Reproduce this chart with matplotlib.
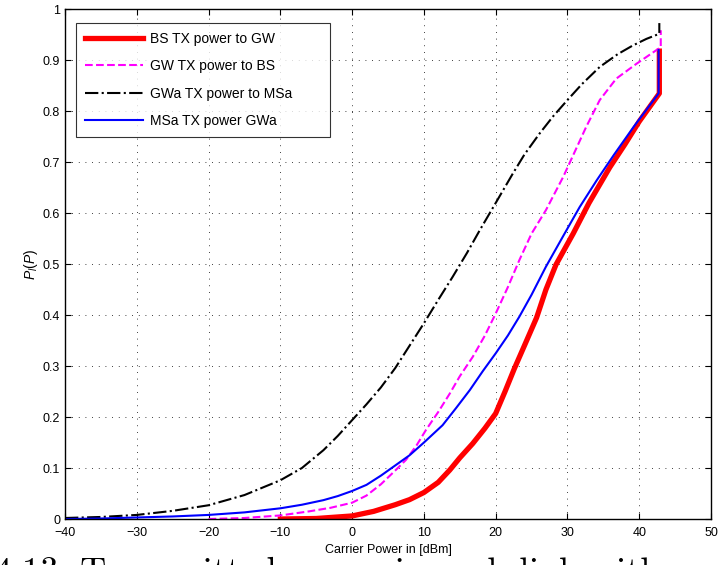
import matplotlib.pyplot as plt

# CDF of transmitted carrier power per link (x in dBm)
bs_to_gw_x = [-10, -5, 0, 3, 6, 8, 10, 12, 13.6, 15, 16.8, 18.5, 20, 21.3, 22.6, 24, 25.7, 27,
              28.4, 30.8, 33, 35.9, 38, 40, 42.8, 42.8]
bs_to_gw_y = [0.0, 0.001, 0.006, 0.015, 0.028, 0.038, 0.052, 0.072, 0.096, 0.12, 0.148, 0.178,
              0.207, 0.25, 0.295, 0.34, 0.395, 0.45, 0.499, 0.56, 0.62, 0.69, 0.735, 0.78, 0.835, 0.918]

gw_to_bs_x = [-20, -15, -10, -6, -3, 0, 2, 4, 6, 7.5, 9, 10.3, 12, 13.6, 15, 16.8, 18.5, 20, 21.7,
              23.3, 25, 27, 29.4, 31, 32.6, 34.5, 36.8, 39.6, 42.4, 43, 43]
gw_to_bs_y = [0.0, 0.002, 0.007, 0.015, 0.022, 0.032, 0.046, 0.068, 0.095, 0.116, 0.145, 0.175,
              0.21, 0.246, 0.28, 0.318, 0.36, 0.403, 0.455, 0.508, 0.56, 0.606, 0.671, 0.72, 0.769,
              0.822, 0.864, 0.893, 0.92, 0.925, 0.959]

gwa_to_msa_x = [-40, -35, -30, -25, -20, -15, -10, -7, -4, -2, 0, 2, 4, 6, 8, 10, 12, 14, 16, 17.8,
                20, 22.4, 24, 26.1, 28, 30, 32, 34.5, 37, 39.1, 41, 42.8, 42.8]
gwa_to_msa_y = [0.002, 0.004, 0.008, 0.016, 0.027, 0.047, 0.076, 0.1, 0.135, 0.163, 0.194, 0.225,
                0.258, 0.296, 0.34, 0.384, 0.43, 0.475, 0.522, 0.567, 0.62, 0.678, 0.715, 0.756,
                0.79, 0.822, 0.853, 0.887, 0.912, 0.929, 0.942, 0.952, 0.973]

msa_to_gwa_x = [-40, -35, -30, -25, -20, -15, -10, -7, -4, -2, 0, 2, 4, 6, 8, 10, 12.6, 14.5, 16.4,
                18.2, 20, 21.7, 23.3, 25, 27, 29.4, 31.7, 34.1, 36.5, 39.2, 42.7, 42.7]
msa_to_gwa_y = [0.0, 0.001, 0.003, 0.005, 0.008, 0.013, 0.021, 0.028, 0.037, 0.045, 0.055, 0.067,
                0.085, 0.105, 0.125, 0.15, 0.184, 0.218, 0.253, 0.29, 0.325, 0.36, 0.397, 0.44,
                0.495, 0.555, 0.612, 0.665, 0.715, 0.769, 0.835, 0.92]

labels = ["BS TX power to GW", "GW TX power to BS", "GWa TX power to MSa", "MSa TX power GWa"]
x_ticks = list(range(-40, 51, 10))
y_ticks = [i / 10 for i in range(11)]

plt.rcParams['font.family'] = ['Liberation Sans', 'DejaVu Sans']
plt.rcParams['mathtext.fontset'] = 'custom'
plt.rcParams['mathtext.it'] = 'Liberation Sans:italic'
plt.rcParams['mathtext.rm'] = 'Liberation Sans'

fig = plt.figure(figsize=(7.2, 5.65), dpi=100)
ax = fig.add_axes([0.0903, 0.0814, 0.8972, 0.9021])

ax.plot(bs_to_gw_x, bs_to_gw_y, color='red', lw=3.8, label=labels[0])
ax.plot(gw_to_bs_x, gw_to_bs_y, color='magenta', lw=1.5, ls='--', label=labels[1])
ax.plot(gwa_to_msa_x, gwa_to_msa_y, color='black', lw=1.5, ls='-.', label=labels[2])
ax.plot(msa_to_gwa_x, msa_to_gwa_y, color='blue', lw=1.5, label=labels[3])

ax.set_xlim(-40, 50)
ax.set_ylim(0, 1)
ax.set_xticks(x_ticks)
ax.set_yticks(y_ticks)
ax.set_xticklabels([str(t).replace('-', '\u2212') for t in x_ticks])
ax.set_yticklabels(['0'] + ['%.1f' % t for t in y_ticks[1:-1]] + ['1'])
ax.tick_params(direction='in', top=True, right=True, labelsize=9, length=4, width=0.8)
ax.tick_params(axis='x', pad=6)
ax.grid(True, ls=(0, (1, 7)), color='black', lw=0.6)
for s in ax.spines.values():
    s.set_linewidth(1.0)

ax.set_xlabel('Carrier Power in [dBm]', fontsize=9, labelpad=3)
ax.set_ylabel('$P_l(P)$', fontsize=10, labelpad=2)

leg = ax.legend(loc='upper left', bbox_to_anchor=(0.017, 0.0, 0.393, 0.973), mode='expand',
                fontsize=10, frameon=True, fancybox=False, edgecolor='black', borderpad=0.65,
                labelspacing=0.95, handlelength=4.2, handletextpad=0.5, borderaxespad=0)
leg.get_frame().set_linewidth(0.8)

# caption line of the page, cut by the lower edge
fig.text(-0.009, -0.030, '4.13: Transmitted power in each link with',
         fontsize=26, family='cmr10', va='baseline', ha='left')

fig.savefig('out.png', dpi=100)
